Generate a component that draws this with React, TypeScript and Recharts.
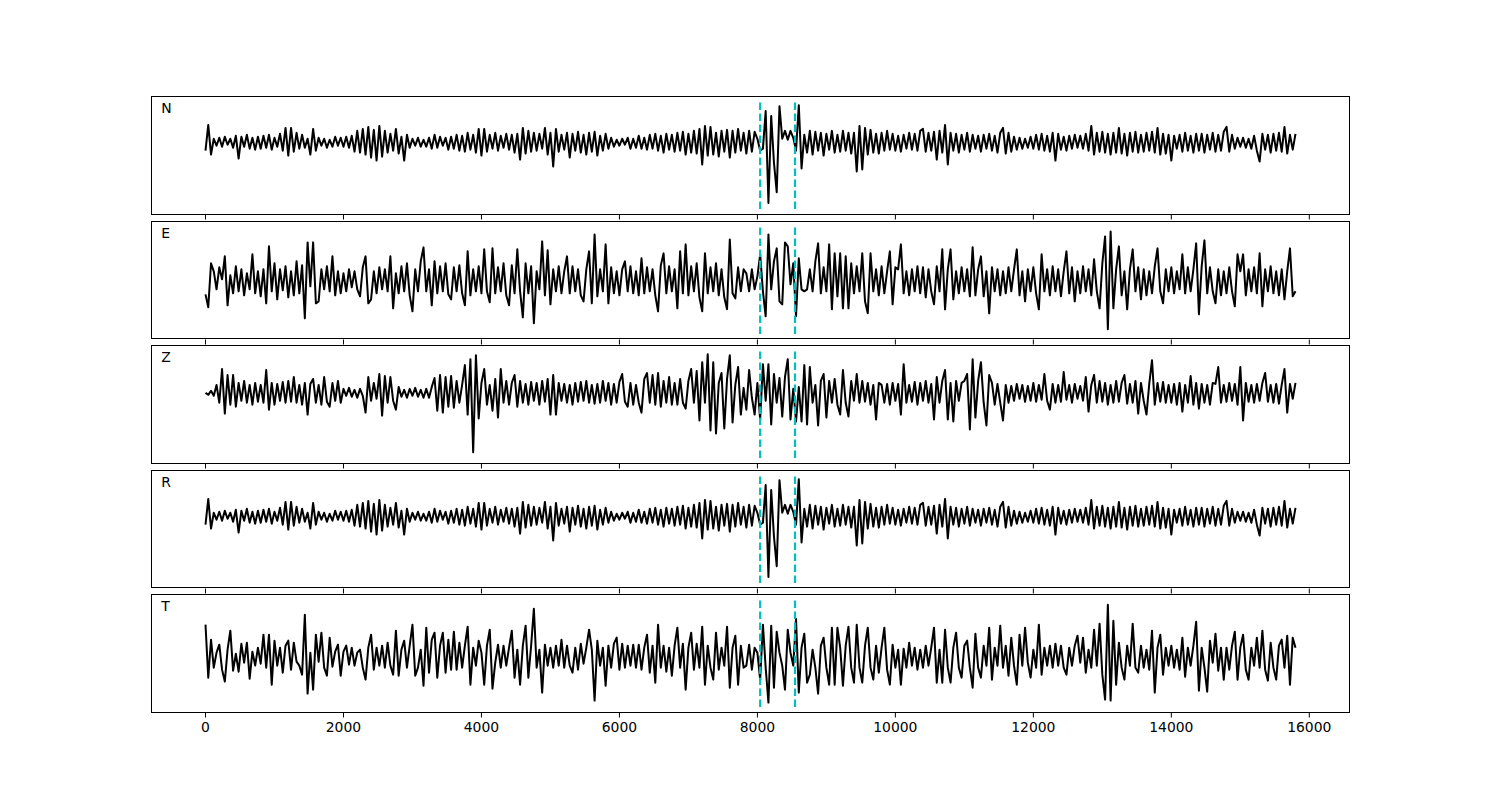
import React from 'react';
import { LineChart, Line, XAxis, YAxis, ReferenceLine } from 'recharts';

// sample spacing along the x axis (samples)
const STEP = 40;

// Amplitudes (one value every STEP samples, 0 .. 15800)
const nValues = [
  -8, 18, -12, 4, -3, 5, -4, 6, -2, 4,
  -5, 7, -16, 6, -4, 8, -6, 5, -7, 6,
  -6, 7, -5, 8, -7, 5, -4, 9, -8, 15,
  -13, 15, -9, 10, -6, 8, -5, 4, -12, 14,
  -8, 5, -3, 4, -5, 3, -4, 6, -3, 5,
  -4, 6, -5, 7, -9, 12, -10, 14, -12, 16,
  -15, 13, -18, 17, -14, 12, -10, 9, -8, 14,
  -11, 6, -18, 8, -5, 4, -3, 5, -4, 3,
  -4, 5, -6, 8, -5, 6, -3, 5, -7, 6,
  -6, 8, -8, 7, -9, 10, -7, 8, -10, 14,
  -13, 14, -9, 8, -6, 10, -8, 7, -5, 9,
  -7, 8, -10, 9, -17, 15, -11, 12, -9, 10,
  -8, 9, -6, 15, -12, 10, -24, 14, -9, 8,
  -7, 10, -15, 9, -8, 11, -10, 8, -12, 10,
  -9, 11, -13, 7, -8, 9, -6, 5, -4, 3,
  -3, 4, -2, 5, -6, 4, -5, 7, -6, 5,
  -7, 8, -6, 9, -8, 7, -10, 9, -7, 8,
  -9, 10, -8, 11, -12, 9, -10, 12, -11, 14,
  -22, 17, -13, 16, -12, 10, -14, 12, -9, 13,
  -15, 12, -10, 14, -8, 10, -11, 12, -9, 11,
  4, -8, -6, 32, -61, 27, -20, -50, 37, 4,
  12, 3, 12, 5, -8, 38, -26, 8, -10, 12,
  -12, 11, -8, 10, -13, 9, -7, 12, -10, 8,
  -9, 12, -8, 10, -11, 10, -29, 17, -27, 15,
  -12, 13, -10, 9, -11, 10, -8, 12, -7, 9,
  -8, 7, -9, 8, -6, 10, -7, 9, -8, 12,
  14, -9, 10, -8, 11, -17, 12, -10, 18, -22,
  10, -8, 9, -10, 8, -7, 10, -9, 8, -6,
  7, -9, 8, -6, 9, -8, 7, -10, 10, 15,
  -11, 10, -9, 6, -7, 5, -6, 4, -5, 6,
  -6, 8, -7, 9, -8, 7, -9, 10, -18, 9,
  -7, 6, -8, 7, -6, 8, -5, 7, -6, 9,
  -8, 17, -12, 10, -9, 11, -10, 9, -12, 10,
  -10, 15, -11, 9, -13, 10, -9, 11, -10, 8,
  -9, 10, -8, 11, -10, 15, -12, 9, -11, 8,
  -18, 7, -6, 8, -9, 10, -8, 7, -10, 9,
  -8, 9, -10, 8, -7, 10, -9, 8, -8, 11,
  16, -9, 8, -6, 5, -4, 5, -5, 4, -6,
  7, -8, -19, 9, -7, 8, -10, 9, -8, 10,
  -9, 16, -11, 8, -7, 9,
];

const eValues = [
  -13, -26, 18, 10, -8, 14, 2, 25, -24, 6,
  -12, 15, -10, 12, -14, 8, -8, 27, -12, 10,
  -15, 12, -22, 35, -10, 18, -18, 12, -9, 15,
  -16, 10, -14, 20, -12, 16, -37, 39, -5, 39,
  -22, -20, 12, -8, 15, -10, 25, -14, 10, -12,
  8, -10, 12, -6, 10, -8, -15, 14, 25, -22,
  -18, 10, -12, 14, -8, 12, -10, 25, -27, 8,
  -12, 15, -10, 18, -14, -30, 12, -10, 20, 34,
  -10, 12, -24, 20, -12, 15, -10, 18, -13, -18,
  14, -10, 16, -12, -24, 30, -14, 12, -10, 15,
  -12, 32, -10, -21, 33, -12, 14, -10, 18, -14,
  -24, 16, -12, 32, -10, -36, 18, -12, 15, -42,
  10, -8, 40, -14, 31, -23, 12, -10, 15, -12,
  10, 25, -12, 15, -10, 12, -14, -20, 12, 30,
  -22, 47, -15, 12, -10, 37, -22, 14, -12, 10,
  -14, 12, 20, -10, 15, -12, 10, -14, 23, -12,
  14, -10, 12, -14, -30, 16, 28, -12, 15, -10,
  12, -27, 30, -12, 37, -14, 15, -10, 18, -16,
  -30, 28, -12, 14, -10, 18, -14, 12, -16, -28,
  42, -12, -17, 14, -10, 12, 8, -10, 12, -8,
  5, 27, -10, -35, 47, -8, 20, 33, -20, -23,
  39, 35, -3, 18, -35, 23, -8, -10, -8, 12,
  -10, 20, 38, -12, 14, -10, 37, -28, 28, -15,
  28, -27, 25, -27, 18, -12, 15, -10, 28, -20,
  -32, 28, -10, 12, -14, 15, -12, 10, 30, -23,
  14, 12, 37, -12, 10, -14, 12, -10, 15, -12,
  14, -16, 12, -10, -23, 15, -10, 32, -28, 12,
  32, -18, 10, -12, 14, -10, 12, -15, 34, -14,
  12, 25, -15, 10, -32, 14, -10, 12, -14, 10,
  -12, 14, -10, 12, 32, -14, 10, -20, 12, -10,
  14, -12, -28, 27, -10, 12, -14, 15, -10, 12,
  -15, 10, 30, -12, 14, -20, 10, -12, 15, -10,
  12, -14, 22, -10, -27, 18, 45, -48, 50, -27,
  12, 35, -14, 10, -28, 12, 32, -10, 14, -18,
  12, -14, 10, -12, 15, 33, -10, -22, 12, -10,
  14, -12, 10, -8, 27, -12, 14, -10, 12, 38,
  -33, 15, 41, -12, 14, -10, -22, 12, -14, 10,
  -12, 14, -10, -25, 27, 10, 27, -14, 12, -10,
  14, -12, 28, -25, 12, -10, 15, -12, 10, -14,
  12, -18, 10, 33, -15, -10,
];

const zValues = [
  0, -2, 2, -3, 8, -10, 24, -21, 18, -12,
  18, -14, 10, -8, 12, -10, 8, -12, 10, -9,
  8, -10, 23, -17, 10, -12, 9, -8, 11, -10,
  12, -9, 16, -10, 8, -12, 10, -22, 9, 14,
  -10, 8, -12, 16, -9, -14, 10, -8, 12, -10,
  4, -3, 5, -4, 3, -5, 4, -3, -20, 16,
  -8, 10, -6, 19, -23, 17, -10, 16, -8, -17,
  6, -4, 3, -5, 4, -3, 5, -4, 3, -5,
  4, -5, 6, 15, -18, 18, -20, 16, -14, 17,
  -15, 12, -10, 8, 28, -22, 34, -60, 38, -26,
  10, 24, -12, 8, -18, 14, -25, 24, -10, 12,
  -12, 10, 18, -14, 12, -10, 9, -12, 11, -8,
  10, -12, 12, -9, 14, -22, 18, -22, 10, -8,
  9, -10, 8, -12, 10, -9, 11, -8, 12, -10,
  8, -11, 9, -10, 12, -8, 10, -12, 9, -10,
  11, 19, -9, -14, 10, -12, 8, -10, -20, 14,
  20, -10, 18, -12, 20, -14, 12, -10, 16, -12,
  10, -12, 14, -10, -16, 12, 24, -10, 22, -28,
  31, -10, 39, -38, 31, -41, 10, 20, -36, 14,
  38, -30, 8, 26, -22, 5, -17, 23, -5, -22,
  10, -27, 29, -8, 29, -32, 19, -10, 15, -24,
  16, 34, -27, 4, -29, 6, -29, 28, -32, 26,
  -10, 8, -33, 12, 19, -25, 12, -10, 14, -12,
  -22, 23, -10, -24, 12, -8, 19, -10, 12, -9,
  10, -12, 8, -27, 10, 8, -10, 9, -12, 10,
  -8, 9, -22, 29, -10, 8, -9, 11, -12, 10,
  -8, 12, -10, 9, -27, 16, -10, 12, 23, -27,
  10, -29, 12, -8, 10, 12, 19, -37, 34, -25,
  12, 31, -10, -33, 18, 10, -12, 9, -10, -28,
  8, -10, 7, -8, 9, -6, 8, -9, 7, -8,
  10, -9, 8, -7, 19, -8, -17, 9, -10, 8,
  -9, 21, -7, 8, -10, 9, -6, 7, -8, 16,
  -19, 8, 18, -10, 12, -9, 10, -12, 8, -10,
  12, -9, 10, 18, -11, 9, -10, 12, -21, 10,
  -8, -22, 9, 33, -12, 10, -9, 11, -10, 8,
  -10, 9, -12, 10, -19, 8, -10, 17, -12, 10,
  -16, 9, -10, 8, -12, 10, 9, 26, -10, 8,
  -9, 10, -8, 9, -12, 26, -28, 10, -9, 8,
  -10, 9, -8, 10, 20, -9, 8, -10, 9, -11,
  8, 24, -20, 9, -6, 10,
];

// The R trace reads identically to the N trace in the picture
const rValues = [...nValues];

const tValues = [
  33, -20, 18, -10, 5, 13, -12, -24, 8, 27,
  -13, 4, -14, 14, -5, 15, -21, 6, -8, 10,
  -6, 23, -10, 23, -27, 17, -8, 10, -15, 12,
  17, -12, 15, -4, -8, -17, 43, -36, 5, -32,
  23, -4, 25, -10, -18, 20, -9, 6, 13, -18,
  6, 12, -7, 10, -8, 5, 8, -10, -22, 10,
  23, -12, 10, -8, 12, -10, 15, -8, -17, 27,
  -18, 8, 17, -10, 12, 33, -18, -10, 8, -28,
  30, -15, 18, 25, -20, 12, 25, -15, 18, -12,
  26, -12, 15, -10, 12, 31, -27, 10, -8, 17,
  5, -27, 12, 28, -31, -5, 13, -10, 12, -8,
  10, 27, -20, 8, -27, 12, 32, -20, 12, 49,
  -10, 8, -35, 13, -8, 10, -10, 12, -8, 18,
  -10, 12, -8, -15, 10, -12, 14, -6, 10, 28,
  8, -43, 17, -8, 10, -28, 12, -10, 14, 20,
  -12, 14, -10, 12, -8, 13, -10, 13, -12, 10,
  23, -15, 12, -25, 33, -10, 12, -14, 10, -18,
  12, 30, -10, 14, -32, 10, 25, -12, 14, -10,
  31, -27, 12, -10, -22, 25, -12, 10, -8, 31,
  -30, 10, 22, -27, 12, -10, -8, 13, -12, 10,
  5, -22, 33, -10, -45, 32, -30, 26, 5, -8,
  -32, 28, 5, -8, 39, -35, 10, 24, -25, -17,
  8, -10, -36, 12, 20, -10, -27, 30, -27, 30,
  10, -28, 12, 31, -10, -25, 33, -10, -25, 12,
  30, -10, -22, 12, -15, 10, 30, -12, -27, 13,
  -10, 8, -27, 9, -10, 15, -8, 10, -12, 8,
  -10, 12, -8, 10, 30, -25, 8, -25, 28, -10,
  -25, 10, 25, -10, -20, 12, 17, -10, -30, 24,
  -10, -20, 12, -8, 30, -22, 10, -8, 32, -10,
  12, -18, 20, -8, -27, 23, -8, 30, -5, -20,
  8, -10, 33, -17, 10, -8, 12, -10, 14, -8,
  12, -10, -17, 10, -8, 12, 22, -5, 20, -15,
  8, -10, 28, -8, 34, -17, -42, 53, -43, 37,
  -27, 15, -10, -22, 12, -8, 34, -10, -15, 12,
  -10, 8, -12, 27, -35, 10, 23, -17, 10, -8,
  12, -10, 8, -12, 20, -19, 10, -8, 12, 36,
  -33, 10, -10, -34, 17, -5, 24, -13, 10, -22,
  10, -12, 12, 26, -22, 10, 23, -12, -22, 10,
  -8, 20, -10, 27, -12, -23, 15, -10, -22, 12,
  18, -10, 22, -27, 20, 10,
];

const componentLabels = ['N', 'E', 'Z', 'R', 'T'];
const componentValues = [nValues, eValues, zValues, rValues, tValues];
const pickTimes = [8040, 8545];
const xTicks = [0, 2000, 4000, 6000, 8000, 10000, 12000, 14000, 16000];
const X_DOMAIN: [number, number] = [-790, 16590];

const PLOT_LEFT = 151;
const PLOT_WIDTH = 1199;
const PANEL_TOP0 = 96;
const PANEL_PITCH = 124.5;
const PANEL_H = 118.5;
const FONT = '"DejaVu Sans", sans-serif';

function Panel({ label, values, index }: { label: string; values: number[]; index: number }) {
  const data = values.map((v, i) => ({ t: i * STEP, v }));
  const mn = Math.min(...values);
  const mx = Math.max(...values);
  const lo = 1.1 * mn;
  const hi = 1.1 * mx;
  const pad = 0.05 * (hi - lo);
  const isLast = index === componentValues.length - 1;
  const axisH = isLast ? 34 : 6;
  const top = PANEL_TOP0 + index * PANEL_PITCH - 8;
  return (
    <div style={{ position: 'absolute', left: PLOT_LEFT - 8, top, width: PLOT_WIDTH, height: PANEL_H + axisH }}>
      <LineChart
        width={PLOT_WIDTH}
        height={PANEL_H + axisH}
        data={data}
        margin={{ top: 0, right: 0, bottom: 0, left: 0 }}
      >
        <XAxis
          dataKey="t"
          type="number"
          domain={X_DOMAIN}
          ticks={xTicks}
          interval={0}
          allowDataOverflow
          axisLine={false}
          tickLine={{ stroke: '#000', strokeWidth: 1 }}
          tickSize={5}
          tickMargin={5}
          height={axisH}
          tickFormatter={(v: number) => (isLast ? String(v) : '')}
          tick={{ fill: '#000', fontSize: 13.9, fontFamily: FONT }}
        />
        <YAxis hide type="number" domain={[lo - pad, hi + pad]} allowDataOverflow />
        <Line
          type="linear"
          dataKey="v"
          stroke="#000"
          strokeWidth={2}
          strokeLinejoin="round"
          dot={false}
          activeDot={false}
          isAnimationActive={false}
        />
        {pickTimes.map((x) => (
          <ReferenceLine
            key={x}
            segment={[{ x, y: lo }, { x, y: hi }]}
            stroke="#00BFBF"
            strokeWidth={2.2}
            strokeDasharray="7.7 3.3"
          />
        ))}
      </LineChart>
      <div
        style={{
          position: 'absolute',
          left: 0,
          top: 0,
          width: PLOT_WIDTH,
          height: PANEL_H,
          border: '1px solid #000',
          boxSizing: 'border-box',
          pointerEvents: 'none',
        }}
      />
      <svg width={40} height={30} style={{ position: 'absolute', left: 0, top: 0, pointerEvents: 'none' }}>
        <text x={10.3} y={17.3} fontSize={13.9} fontFamily={FONT} fill="#000">
          {label}
        </text>
      </svg>
    </div>
  );
}

export default function App() {
  return (
    <div style={{ position: 'relative', width: 1484, height: 784, background: '#fff' }}>
      {componentLabels.map((label, i) => (
        <Panel key={label} label={label} values={componentValues[i]} index={i} />
      ))}
    </div>
  );
}
